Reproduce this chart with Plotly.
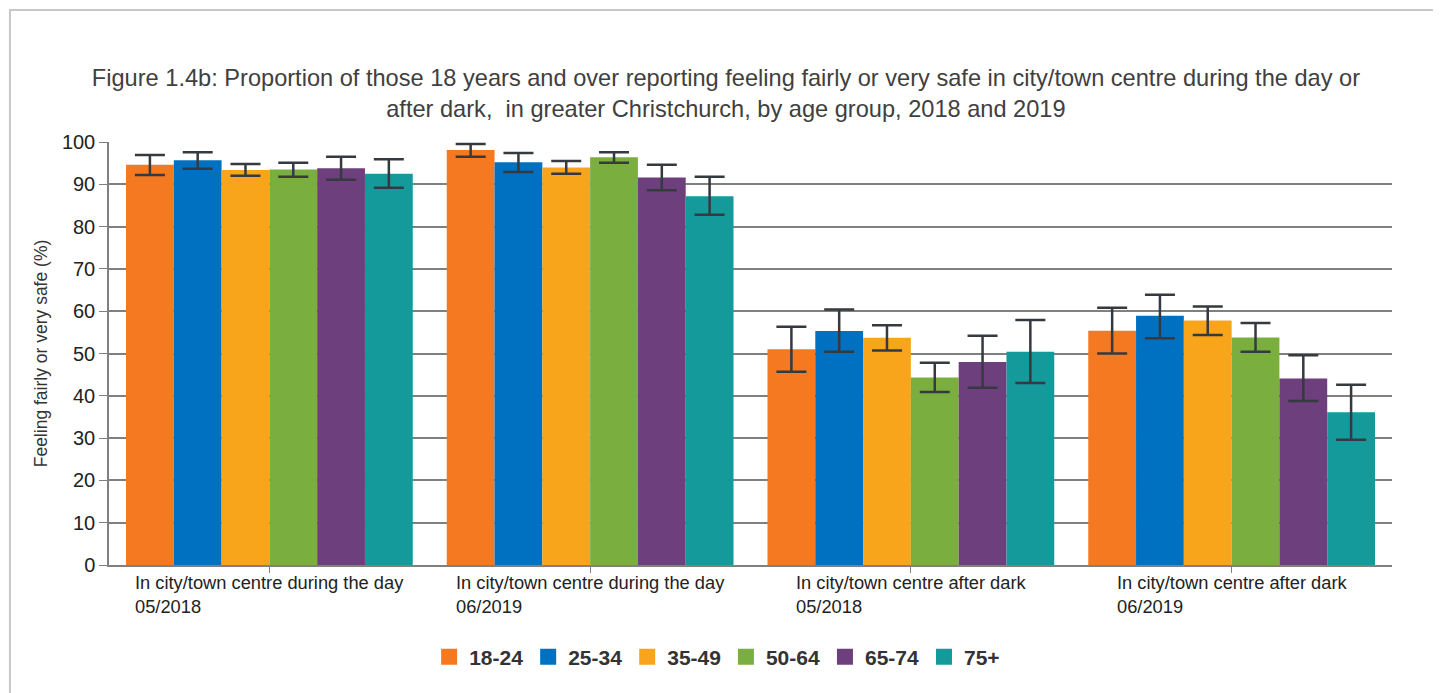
import plotly.graph_objects as go

categories = ["In city/town centre during the day<br>05/2018",
              "In city/town centre during the day<br>06/2019",
              "In city/town centre after dark<br>05/2018",
              "In city/town centre after dark<br>06/2019"]
cat_keys = ["day2018", "day2019", "dark2018", "dark2019"]
age_groups = ["18-24", "25-34", "35-49", "50-64", "65-74", "75+"]
values = {
    "18-24": [94.6, 98.1, 51.0, 55.4],
    "25-34": [95.7, 95.2, 55.3, 58.9],
    "35-49": [93.4, 94.0, 53.7, 57.8],
    "50-64": [93.5, 96.4, 44.3, 53.8],
    "65-74": [93.8, 91.6, 48.0, 44.1],
    "75+":   [92.5, 87.2, 50.4, 36.1],
}
err_upper = {
    "18-24": [96.9, 99.5, 56.3, 60.8],
    "25-34": [97.6, 97.4, 60.4, 63.9],
    "35-49": [94.8, 95.5, 56.7, 61.1],
    "50-64": [95.1, 97.6, 47.8, 57.2],
    "65-74": [96.5, 94.6, 54.2, 49.6],
    "75+":   [95.9, 91.8, 57.9, 42.6],
}
err_lower = {
    "18-24": [92.2, 96.5, 45.7, 50.0],
    "25-34": [93.7, 92.9, 50.4, 53.6],
    "35-49": [92.0, 92.5, 50.7, 54.4],
    "50-64": [91.8, 95.1, 40.9, 50.4],
    "65-74": [91.1, 88.6, 41.9, 38.8],
    "75+":   [89.2, 82.8, 43.0, 29.6],
}
colors = ["#F47920", "#0070C0", "#F8A51B", "#7AAF3F", "#6D3F7D", "#159A9C"]

FONT = "Liberation Sans, Arial"

fig = go.Figure()
for ag, col in zip(age_groups, colors):
    v = values[ag]
    up = [u - x for u, x in zip(err_upper[ag], v)]
    lo = [x - l for l, x in zip(err_lower[ag], v)]
    fig.add_trace(go.Bar(
        x=cat_keys, y=v, name=ag, showlegend=False,
        marker=dict(color=col, line=dict(width=0)),
        error_y=dict(type="data", symmetric=False, array=up, arrayminus=lo,
                     color="#343a40", thickness=2.5, width=15),
    ))
# legend entries with larger square swatches
for ag, col in zip(age_groups, colors):
    fig.add_trace(go.Scatter(
        x=[None], y=[None], mode="markers", name=ag, showlegend=True,
        marker=dict(symbol="square", size=16, color=col, line=dict(width=0)),
    ))

annotations = []
for key, lab in zip(cat_keys, categories):
    annotations.append(dict(x=key, xref="x", y=0, yref="paper", yanchor="top",
                            xanchor="center", yshift=-5, text=lab, align="left",
                            showarrow=False,
                            font=dict(family=FONT, size=18.3, color="#222222")))

fig.update_layout(
    width=1433, height=685,
    paper_bgcolor="white", plot_bgcolor="white",
    margin=dict(l=101, r=49, t=134, b=128),
    barmode="group", bargap=0.106, bargroupgap=0,
    title=dict(text="Figure 1.4b: Proportion of those 18 years and over reporting feeling fairly or very safe in city/town centre during the day or<br>after dark,  in greater Christchurch, by age group, 2018 and 2019",
               x=0.501, xanchor="center", xref="container", y=0.886, yanchor="middle",
               font=dict(family=FONT, size=23.6, color="#404040")),
    font=dict(family=FONT, color="#222222"),
    showlegend=True,
    legend=dict(orientation="h", x=0.474, xanchor="center", y=-0.2175, yanchor="middle",
                font=dict(family=FONT, size=21, color="#333333", weight="bold"),
                itemwidth=30, traceorder="normal"),
    annotations=annotations,
    shapes=[dict(type="rect", xref="paper", yref="paper", x0=-0.0772, x1=1.035,
                 y0=-0.35, y1=1.312, line=dict(color="#c8c8c8", width=2), layer="below")],
)
fig.update_xaxes(showticklabels=False, showline=True, linecolor="#808080", linewidth=1.5,
                 ticks="outside", ticklen=6, tickcolor="#808080", showgrid=False,
                 range=[-0.5, 3.5])
fig.update_yaxes(range=[0, 100], dtick=10, showgrid=True, gridcolor="#808080", gridwidth=1.5,
                 showline=True, linecolor="#808080", linewidth=1.5,
                 ticks="outside", ticklen=8, tickcolor="#808080",
                 tickfont=dict(family=FONT, size=20, color="#222222"),
                 title=dict(text="Feeling fairly or very safe (%)", standoff=10,
                            font=dict(family=FONT, size=17.5, color="#333333")))

fig.write_html("out.html")
